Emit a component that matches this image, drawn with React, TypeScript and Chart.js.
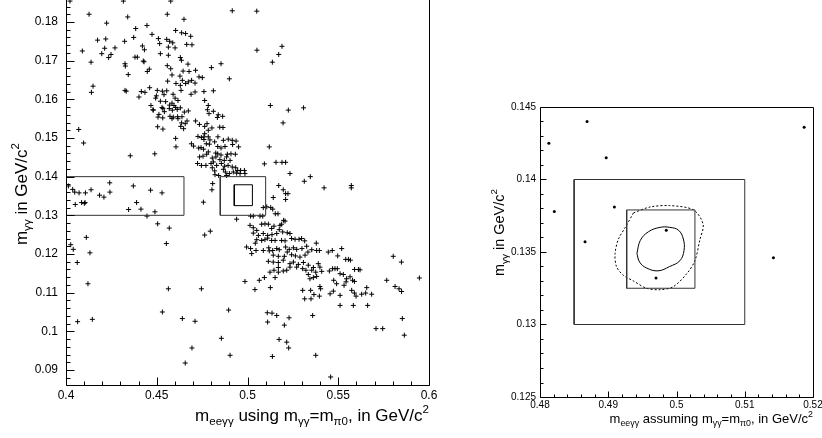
import React, { useEffect, useRef } from "react";
import { Chart, registerables } from "chart.js";
Chart.register(...registerables);

const FONT = '"Liberation Sans", Arial, Helvetica, sans-serif';

// ---------- Left panel data: (m_eeγγ, m_γγ) candidates ----------
const upperBand: [number, number][] = [
  [0.4022,0.1854],[0.4316,0.1854],[0.4577,0.1854],[0.4127,0.1820],[0.4340,0.1813],[0.4558,0.1820],[0.4650,0.1807],[0.4916,0.1829],[0.5051,0.1828],[0.4224,0.1797],
  [0.4384,0.1783],[0.4446,0.1791],[0.4604,0.1778],[0.4637,0.1772],[0.4659,0.1770],[0.4687,0.1763],[0.4474,0.1768],[0.4509,0.1757],[0.4555,0.1755],[0.4571,0.1750],
  [0.4588,0.1746],[0.4323,0.1750],[0.4373,0.1760],[0.4174,0.1753],[0.4219,0.1756],[0.4270,0.1733],[0.4213,0.1732],[0.4197,0.1718],[0.4235,0.1708],[0.4248,0.1716],
  [0.4421,0.1738],[0.4432,0.1728],[0.4665,0.1742],[0.4694,0.1741],[0.4516,0.1744],[0.4564,0.1735],[0.4601,0.1733],[0.5052,0.1727],[0.5190,0.1737],[0.5172,0.1716],
  [0.5137,0.1696],[0.4090,0.1725],[0.4138,0.1696],[0.4325,0.1692],[0.4327,0.1686],[0.4393,0.1709],[0.4380,0.1709],[0.4426,0.1699],[0.4430,0.1697],[0.4520,0.1718],
  [0.4564,0.1714],[0.4630,0.1708],[0.4636,0.1701],[0.4672,0.1691],[0.4854,0.1692],[0.4459,0.1678],[0.4448,0.1672],[0.4558,0.1687],[0.4577,0.1679],[0.4645,0.1673],
  [0.4678,0.1672],[0.4714,0.1675],[0.4733,0.1658],[0.4751,0.1656],[0.4801,0.1682],[0.4900,0.1653],[0.4343,0.1664],[0.4584,0.1663],[0.4628,0.1660],[0.4641,0.1649],
  [0.4674,0.1645],[0.4692,0.1649],[0.4560,0.1647],[0.4606,0.1641],[0.4630,0.1636],[0.4659,0.1641],[0.4711,0.1642],[0.4760,0.1620],[0.4812,0.1622],[0.4764,0.1597],
  [0.4149,0.1634],[0.4140,0.1618],[0.4332,0.1621],[0.4325,0.1623],[0.4415,0.1620],[0.4435,0.1618],[0.4402,0.1606],[0.4461,0.1630],[0.4503,0.1623],[0.4531,0.1621],
  [0.4540,0.1612],[0.4555,0.1622],[0.4590,0.1613],[0.4601,0.1603],[0.4634,0.1623],[0.4689,0.1613],[0.4711,0.1619],[0.4481,0.1572],[0.4498,0.1609],[0.4494,0.1603],
  [0.4520,0.1595],[0.4549,0.1594],[0.4584,0.1590],[0.4595,0.1584],[0.4617,0.1597],[0.4468,0.1584],[0.4479,0.1573],[0.4529,0.1579],[0.4534,0.1576],[0.4571,0.1585],
  [0.4569,0.1576],[0.4512,0.1561],[0.4542,0.1568],[0.4586,0.1572],[0.4604,0.1579],[0.4613,0.1574],[0.4630,0.1578],[0.4652,0.1567],[0.4674,0.1570],[0.4507,0.1554],
  [0.4533,0.1552],[0.4573,0.1556],[0.4584,0.1550],[0.4591,0.1554],[0.4615,0.1555],[0.4639,0.1555],[0.4667,0.1544],[0.4714,0.1544],[0.4784,0.1584],[0.4779,0.1573],
  [0.4788,0.1563],[0.4812,0.1569],[0.4839,0.1560],[0.4834,0.1553],[0.4863,0.1556],[0.5126,0.1584],[0.5225,0.1572],[0.5309,0.1578],[0.5196,0.1539],[0.4617,0.1550],
  [0.4637,0.1539],[0.4632,0.1530],[0.4648,0.1524],[0.4657,0.1537],[0.4505,0.1529],[0.4534,0.1523],[0.4735,0.1535],[0.4764,0.1530],[0.4777,0.1537],[0.4804,0.1526],
  [0.4764,0.1511],[0.4784,0.1520],[0.4847,0.1528],[0.4865,0.1527],[0.4760,0.1496],[0.4727,0.1504],[0.4746,0.1501],[0.4760,0.1503],[0.4784,0.1503],[0.4793,0.1495],
  [0.4819,0.1490],[0.4837,0.1503],[0.4867,0.1494],[0.4894,0.1497],[0.4916,0.1494],[0.4951,0.1477],[0.4937,0.1492],[0.4604,0.1499],[0.4606,0.1477],[0.4691,0.1485],
  [0.4703,0.1479],[0.4744,0.1475],[0.4773,0.1485],[0.4790,0.1484],[0.4836,0.1478],[0.4854,0.1474],[0.4876,0.1478],[0.4918,0.1483],[0.5120,0.1477],[0.4070,0.1522],
  [0.4097,0.1487],[0.4354,0.1454],[0.4489,0.1459],[0.4731,0.1474],[0.4758,0.1471],[0.4784,0.1464],[0.4825,0.1461],[0.4836,0.1459],[0.4854,0.1456],[0.4889,0.1458],
  [0.4909,0.1459],[0.4933,0.1458],[0.4736,0.1451],[0.4755,0.1453],[0.4775,0.1458],[0.4806,0.1448],[0.4826,0.1451],[0.4848,0.1444],[0.4872,0.1442],[0.4885,0.1451],
  [0.4904,0.1442],[0.4725,0.1434],[0.4746,0.1429],[0.4771,0.1429],[0.4799,0.1434],[0.4812,0.1438],[0.4830,0.1429],[0.4856,0.1434],[0.4874,0.1427],[0.4893,0.1429],
  [0.4916,0.1425],[0.4935,0.1423],[0.4946,0.1416],[0.4962,0.1416],[0.4983,0.1416],[0.4806,0.1423],[0.4819,0.1415],[0.4867,0.1419],[0.4878,0.1412],[0.4900,0.1408],
  [0.4922,0.1412],[0.4940,0.1409],[0.4959,0.1408],[0.4986,0.1408],[0.5093,0.1433],[0.5157,0.1437],[0.5190,0.1437],[0.5210,0.1437],[0.5234,0.1408],[0.5313,0.1388],
  [0.5346,0.1400],[0.5422,0.1371],[0.5572,0.1377],[0.5572,0.1371],[0.4821,0.1405],[0.4841,0.1403],[0.4885,0.1403],[0.4808,0.1382],[0.4804,0.1366],[0.4757,0.1334],
  [0.5172,0.1377],[0.5197,0.1366],[0.5210,0.1356],[0.5223,0.1356],[0.5210,0.1341],[0.5142,0.1346],
];

const sideband: [number, number][] = [
  [0.4013,0.1376],[0.4037,0.1367],[0.4048,0.1360],[0.4072,0.1358],[0.4107,0.1358],[0.4138,0.1366],[0.4185,0.1352],[0.4209,0.1347],[0.4241,0.1384],[0.4242,0.1360],
  [0.4371,0.1376],[0.4466,0.1365],[0.4529,0.1358],[0.4051,0.1328],[0.4086,0.1333],[0.4101,0.1331],[0.4105,0.1333],[0.4345,0.1315],[0.4389,0.1333],[0.4413,0.1316],
  [0.4446,0.1298],[0.4490,0.1309],
];

const lowerBand: [number, number][] = [
  [0.4026,0.1224],[0.4040,0.1212],[0.4062,0.1178],[0.4112,0.1243],[0.4132,0.1203],[0.4121,0.1123],[0.4064,0.1025],[0.4145,0.1031],[0.4505,0.1278],[0.4569,0.1267],
  [0.4553,0.1227],[0.4764,0.1249],[0.4795,0.1259],[0.4564,0.1110],[0.4531,0.1050],[0.4641,0.1033],[0.4711,0.1026],[0.4657,0.0918],[0.4694,0.0957],[0.4856,0.0982],
  [0.4904,0.0938],[0.4896,0.1055],[0.4746,0.1110],[0.4986,0.1129],[0.5041,0.1108],[0.5065,0.1132],[0.5093,0.1139],[0.5126,0.1113],
  [0.4940,0.1290],[0.5017,0.1298],[0.5032,0.1298],[0.5069,0.1298],[0.5084,0.1298],[0.5087,0.1320],[0.5106,0.1322],[0.5128,0.1320],[0.5139,0.1316],[0.5153,0.1304],
  [0.5168,0.1304],[0.5014,0.1274],[0.5032,0.1268],[0.5051,0.1261],[0.5078,0.1277],[0.5096,0.1278],[0.5115,0.1277],[0.5133,0.1266],[0.5146,0.1272],[0.5175,0.1263],
  [0.5199,0.1287],[0.5207,0.1285],[0.5188,0.1277],[0.5179,0.1274],[0.5032,0.1254],[0.5060,0.1248],[0.5087,0.1253],[0.5111,0.1248],[0.5135,0.1250],[0.5161,0.1253],
  [0.5194,0.1257],[0.5219,0.1255],[0.5234,0.1253],[0.4995,0.1218],[0.5017,0.1214],[0.5043,0.1228],[0.5051,0.1237],[0.5078,0.1235],[0.5096,0.1237],[0.5111,0.1241],
  [0.5133,0.1235],[0.5152,0.1235],[0.5188,0.1235],[0.5207,0.1234],[0.5243,0.1240],[0.5262,0.1238],[0.5284,0.1238],[0.5298,0.1240],[0.5315,0.1234],[0.5023,0.1201],
  [0.5047,0.1209],[0.5087,0.1209],[0.5117,0.1216],[0.5120,0.1208],[0.5139,0.1209],[0.5161,0.1214],[0.5175,0.1211],[0.5210,0.1218],[0.5230,0.1212],[0.5253,0.1216],
  [0.5271,0.1212],[0.5300,0.1214],[0.5326,0.1220],[0.5354,0.1211],[0.5379,0.1228],[0.5381,0.1209],[0.5333,0.1205],[0.5396,0.1209],[0.5142,0.1197],[0.5170,0.1194],
  [0.5203,0.1194],[0.5219,0.1205],[0.5243,0.1198],[0.5264,0.1195],[0.5289,0.1192],[0.5317,0.1197],[0.5115,0.1181],[0.5142,0.1179],[0.5170,0.1178],[0.5197,0.1184],
  [0.5234,0.1175],[0.5253,0.1179],[0.5280,0.1173],[0.5308,0.1178],[0.5335,0.1171],[0.5363,0.1165],[0.5390,0.1175],[0.5399,0.1166],[0.5409,0.1155],[0.5376,0.1153],
  [0.5354,0.1158],[0.5322,0.1158],[0.5304,0.1162],[0.5271,0.1166],[0.5216,0.1158],[0.5197,0.1156],[0.5170,0.1165],[0.5146,0.1158],[0.5234,0.1166],[0.5381,0.1142],
  [0.5363,0.1139],[0.5344,0.1136],[0.5335,0.1147],[0.5170,0.1153],[0.5152,0.1139],[0.5124,0.1153],
];

const rightTail: [number, number][] = [
  [0.5445,0.1205],[0.5467,0.1209],[0.5519,0.1214],[0.5497,0.1195],[0.5541,0.1186],[0.5556,0.1186],[0.5567,0.1184],[0.5590,0.1160],[0.5611,0.1160],[0.5620,0.1159],
  [0.5451,0.1156],[0.5469,0.1162],[0.5482,0.1162],[0.5495,0.1162],[0.5510,0.1149],[0.5528,0.1147],[0.5546,0.1136],[0.5565,0.1141],[0.5579,0.1132],[0.5589,0.1129],
  [0.5475,0.1132],[0.5491,0.1123],[0.5399,0.1116],[0.5403,0.1110],[0.5348,0.1106],[0.5366,0.1095],[0.5396,0.1091],[0.5455,0.1097],[0.5473,0.1104],[0.5510,0.1093],
  [0.5532,0.1119],[0.5543,0.1128],[0.5574,0.1106],[0.5589,0.1099],[0.5598,0.1091],[0.5629,0.1096],[0.5651,0.1099],[0.5657,0.1113],[0.5684,0.1096],[0.5662,0.1067],
  [0.5583,0.1067],[0.5510,0.1067],[0.5315,0.1084],[0.5304,0.1106],[0.5350,0.1084],[0.5803,0.1194],[0.5848,0.1179],[0.5813,0.1116],[0.5835,0.1110],[0.5849,0.1103],
  [0.5767,0.1132],[0.5947,0.1138],[0.5853,0.1033],[0.5864,0.0990],[0.5708,0.1007],[0.5745,0.1007],
  [0.5109,0.1048],[0.5135,0.1047],[0.5161,0.1041],[0.5111,0.1024],[0.5203,0.1016],[0.5229,0.1035],[0.5174,0.0979],[0.5216,0.0972],[0.5227,0.0957],[0.5137,0.0935],
  [0.5376,0.0938],[0.5458,0.0882],[0.5359,0.1041],
];

// ---------- Right panel (zoom on signal region) ----------
const zoomPoints: [number, number][] = [
  [0.4813,0.1425],[0.4869,0.1440],[0.4897,0.1415],[0.5187,0.1436],[0.4821,0.1378],
  [0.4909,0.1381],[0.4866,0.1357],[0.4985,0.1365],[0.4970,0.1332],[0.5142,0.1346],
];
const solidContour: [number, number][] = [
  [0.4942,0.1349],[0.4947,0.1358],[0.4959,0.1364],[0.4976,0.1367],[0.4990,0.1367],[0.5003,0.1365],[0.5010,0.1359],
  [0.5011,0.1351],[0.5005,0.1344],[0.4990,0.1340],[0.4973,0.1337],[0.4956,0.1339],[0.4946,0.1343],[0.4942,0.1349],
];
const dashedContour: [number, number][] = [
  [0.4937,0.1377],[0.4961,0.1381],[0.4990,0.1382],[0.5025,0.1379],[0.5039,0.1369],[0.5034,0.1358],[0.5027,0.1344],
  [0.5015,0.1335],[0.4995,0.1326],[0.4976,0.1324],[0.4956,0.1325],[0.4937,0.1330],[0.4922,0.1334],[0.4912,0.1340],
  [0.4910,0.1349],[0.4915,0.1359],[0.4925,0.1367],[0.4937,0.1377],
];

// boxes: [xmin, xmax], [ymin, ymax]
const sidebandBoxX = [0.4, 0.465];
const sidebandBoxY = [0.13, 0.14];
const signalBoxX = [0.485, 0.51];
const signalBoxY = [0.13, 0.14];
const innerBoxX = [0.4927, 0.5027];
const innerBoxY = [0.1325, 0.1379];

// axes
const leftXRange = [0.4, 0.6];
const leftYRange = [0.08612, 0.19];
const leftXTicks = [0.4, 0.45, 0.5, 0.55, 0.6];
const leftXTickLabels = ["0.4", "0.45", "0.5", "0.55", "0.6"];
const leftYTicks = [0.09, 0.1, 0.11, 0.12, 0.13, 0.14, 0.15, 0.16, 0.17, 0.18];
const leftYTickLabels = ["0.09", "0.1", "0.11", "0.12", "0.13", "0.14", "0.15", "0.16", "0.17", "0.18"];
const rightXRange = [0.48, 0.52];
const rightYRange = [0.125, 0.145];
const rightXTicks = [0.48, 0.49, 0.5, 0.51, 0.52];
const rightXTickLabels = ["0.48", "0.49", "0.5", "0.51", "0.52"];
const rightYTicks = [0.125, 0.13, 0.135, 0.14, 0.145];
const rightYTickLabels = ["0.125", "0.13", "0.135", "0.14", "0.145"];

type Part = [string, number]; // 0 normal, -1 subscript, 1 superscript
const leftXTitle: Part[] = [["m", 0], ["eeγγ", -1], [" using m", 0], ["γγ", -1], ["=m", 0], ["π0", -1], [", in GeV/c", 0], ["2", 1]];
const rightXTitle: Part[] = [["m", 0], ["eeγγ", -1], [" assuming m", 0], ["γγ", -1], ["=m", 0], ["π0", -1], [", in GeV/c", 0], ["2", 1]];
const yTitle: Part[] = [["m", 0], ["γγ", -1], [" in GeV/c", 0], ["2", 1]];

function drawRich(ctx: CanvasRenderingContext2D, parts: Part[], x: number, y: number, size: number, align: "left" | "right") {
  const small = size * 0.68;
  let w = 0;
  for (const [t, k] of parts) {
    ctx.font = `${k ? small : size}px ${FONT}`;
    w += ctx.measureText(t).width;
  }
  let cx = align === "right" ? x - w : x;
  ctx.textAlign = "left";
  ctx.textBaseline = "alphabetic";
  for (const [t, k] of parts) {
    ctx.font = `${k ? small : size}px ${FONT}`;
    const dy = k === -1 ? size * 0.25 : k === 1 ? -size * 0.45 : 0;
    ctx.fillText(t, cx, y + dy);
    cx += ctx.measureText(t).width;
  }
}

function isMult(v: number, step: number) {
  const r = v / step;
  return Math.abs(r - Math.round(r)) < 1e-6;
}

function rootAxes(o: any) {
  return {
    id: "rootAxes",
    afterDraw(chart: any) {
      const { ctx, chartArea } = chart;
      const { left, right, top, bottom } = chartArea;
      const xs = chart.scales.x, ys = chart.scales.y;
      ctx.save();
      ctx.strokeStyle = "#000";
      ctx.lineWidth = 1;
      const L = Math.round(left) + 0.5, R = Math.round(right) + 0.5, T = Math.round(top) + 0.5, B = Math.round(bottom) + 0.5;
      ctx.beginPath();
      ctx.moveTo(L, T); ctx.lineTo(R, T); ctx.lineTo(R, B); ctx.lineTo(L, B); ctx.closePath();
      ctx.stroke();
      ctx.beginPath();
      const x0 = Math.ceil(xs.min / o.xMinor - 1e-6);
      for (let i = x0; i * o.xMinor <= xs.max + 1e-9; i++) {
        const v = i * o.xMinor;
        const px = Math.round(xs.getPixelForValue(v)) + 0.5;
        const len = isMult(v, o.xMajor) ? o.majorLen : o.minorLen;
        ctx.moveTo(px, B); ctx.lineTo(px, B - len);
      }
      const y0 = Math.ceil(ys.min / o.yMinor - 1e-6);
      for (let i = y0; i * o.yMinor <= ys.max + 1e-9; i++) {
        const v = i * o.yMinor;
        const py = Math.round(ys.getPixelForValue(v)) + 0.5;
        const len = isMult(v, o.yMajor) ? o.majorLen : o.minorLen;
        ctx.moveTo(L, py); ctx.lineTo(L + len, py);
      }
      ctx.stroke();
      ctx.fillStyle = "#000";
      ctx.font = `${o.labelSize}px ${FONT}`;
      ctx.textAlign = "center";
      ctx.textBaseline = "top";
      o.xTicks.forEach((v: number, i: number) => {
        ctx.fillText(o.xTickLabels[i], xs.getPixelForValue(v), bottom + o.xLabelGap);
      });
      ctx.textAlign = "right";
      ctx.textBaseline = "middle";
      o.yTicks.forEach((v: number, i: number) => {
        ctx.fillText(o.yTickLabels[i], left - o.yLabelGap, ys.getPixelForValue(v));
      });
      drawRich(ctx, o.xTitle, right + o.xTitleDX, bottom + o.xTitleDY, o.titleSize, "right");
      ctx.save();
      ctx.translate(left - o.yTitleDX, o.yTitleEnd);
      ctx.rotate(-Math.PI / 2);
      drawRich(ctx, o.yTitle, 0, 0, o.yTitleSize, "right");
      ctx.restore();
      ctx.restore();
    },
  };
}

function boxData(bx: number[], by: number[]) {
  return [
    { x: bx[0], y: by[0] }, { x: bx[1], y: by[0] }, { x: bx[1], y: by[1] }, { x: bx[0], y: by[1] }, { x: bx[0], y: by[0] },
  ];
}
const toXY = (a: [number, number][]) => a.map(([x, y]) => ({ x, y }));

const lineDS = (data: any[], color: string, dash: number[] = [], tension = 0) => ({
  type: "scatter" as const,
  data,
  showLine: true,
  borderColor: color,
  borderWidth: 1,
  borderDash: dash,
  pointRadius: 0,
  tension,
  fill: false,
});

export default function App() {
  const leftRef = useRef<HTMLCanvasElement>(null);
  const rightRef = useRef<HTMLCanvasElement>(null);
  useEffect(() => {
    const common = {
      responsive: false,
      animation: false as const,
      devicePixelRatio: 1,
      events: [] as any[],
      plugins: { legend: { display: false }, tooltip: { enabled: false } },
    };
    const left = new Chart(leftRef.current!, {
      type: "scatter",
      data: {
        datasets: [
          lineDS(boxData(sidebandBoxX, sidebandBoxY), "#333"),
          lineDS(boxData(signalBoxX, signalBoxY), "#333"),
          lineDS(boxData(innerBoxX, innerBoxY), "#000"),
          {
            data: toXY([...upperBand, ...sideband, ...lowerBand, ...rightTail]),
            pointStyle: "cross",
            pointRadius: 2.5,
            pointBorderWidth: 1,
            borderColor: "#000",
            backgroundColor: "#000",
          } as any,
        ],
      },
      options: {
        ...common,
        layout: { padding: { left: 66, right: 11, top: 23.3, bottom: 53 } },
        scales: {
          x: { type: "linear", min: leftXRange[0], max: leftXRange[1], display: false },
          y: { type: "linear", min: leftYRange[0], max: leftYRange[1], display: false },
        },
      } as any,
      plugins: [
        rootAxes({
          xMinor: 0.01, xMajor: 0.05, yMinor: 0.002, yMajor: 0.01,
          majorLen: 8, minorLen: 4, labelSize: 12,
          xTicks: leftXTicks, xTickLabels: leftXTickLabels,
          yTicks: leftYTicks, yTickLabels: leftYTickLabels,
          xLabelGap: 5, yLabelGap: 8,
          xTitle: leftXTitle, xTitleDX: 0, xTitleDY: 36,
          yTitle: yTitle, yTitleDX: 39, yTitleEnd: 183,
          titleSize: 17, yTitleSize: 17,
        }),
      ],
    });
    const right = new Chart(rightRef.current!, {
      type: "scatter",
      data: {
        datasets: [
          lineDS(boxData(signalBoxX, signalBoxY), "#333"),
          lineDS(boxData(innerBoxX, innerBoxY), "#333"),
          lineDS(toXY(solidContour), "#000", [], 0.4),
          lineDS(toXY(dashedContour), "#000", [2, 2], 0.3),
          {
            data: toXY(zoomPoints),
            pointStyle: "circle",
            pointRadius: 1.5,
            pointBorderWidth: 0,
            backgroundColor: "#000",
            borderColor: "#000",
          } as any,
        ],
      },
      options: {
        ...common,
        layout: { padding: { left: 100, right: 9, top: 107, bottom: 41 } },
        scales: {
          x: { type: "linear", min: rightXRange[0], max: rightXRange[1], display: false },
          y: { type: "linear", min: rightYRange[0], max: rightYRange[1], display: false },
        },
      } as any,
      plugins: [
        rootAxes({
          xMinor: 0.002, xMajor: 0.01, yMinor: 0.001, yMajor: 0.005,
          majorLen: 6, minorLen: 3, labelSize: 10,
          xTicks: rightXTicks, xTickLabels: rightXTickLabels,
          yTicks: rightYTicks, yTickLabels: rightYTickLabels,
          xLabelGap: 3, yLabelGap: 4,
          xTitle: rightXTitle, xTitleDX: 0, xTitleDY: 26,
          yTitle: yTitle, yTitleDX: 36, yTitleEnd: 189,
          titleSize: 13, yTitleSize: 14.5,
        }),
      ],
    });
    return () => {
      left.destroy();
      right.destroy();
    };
  }, []);
  return (
    <div style={{ position: "absolute", left: 0, top: 0, width: 822, height: 438, overflow: "hidden", background: "#fff" }}>
      <canvas ref={leftRef} width={440} height={478} style={{ position: "absolute", left: 0, top: -40, width: 440, height: 478 }} />
      <canvas ref={rightRef} width={382} height={438} style={{ position: "absolute", left: 440, top: 0, width: 382, height: 438 }} />
    </div>
  );
}
